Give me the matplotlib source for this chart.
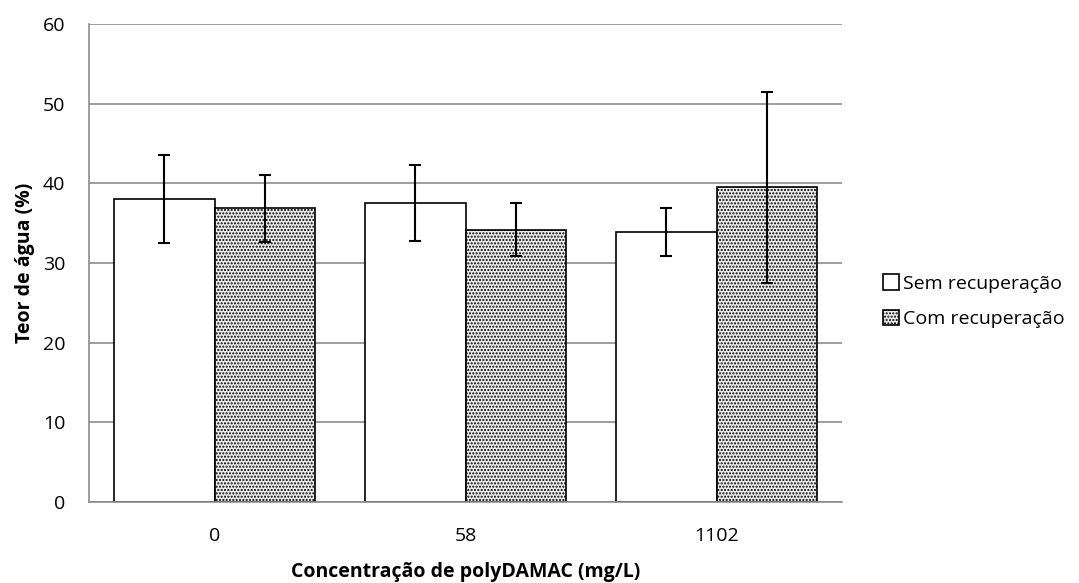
import numpy as np
import matplotlib
matplotlib.use("Agg")
import matplotlib.pyplot as plt

plt.rcParams["font.family"] = ["Open Sans", "DejaVu Sans"]
plt.rcParams["hatch.linewidth"] = 1.0
plt.rcParams["hatch.color"] = "#505050"

# data
categories = ["0", "58", "1102"]
sem_vals = [38.0, 37.5, 33.9]
sem_err = [5.5, 4.75, 3.05]
com_vals = [36.9, 34.2, 39.5]
com_err = [4.2, 3.3, 12.0]

fig = plt.figure(figsize=(10.79, 5.83), dpi=100)
ax = fig.add_axes([0.0825, 0.1389, 0.698, 0.8199])

x = np.arange(len(categories))
w = 0.4
err_kw = dict(ecolor="black", elinewidth=1.5, capsize=4, capthick=1.5)

ax.bar(x - w / 2, sem_vals, w, yerr=sem_err, color="white", edgecolor="black",
       linewidth=1.2, error_kw=err_kw, label="Sem recuperação", zorder=2)
ax.bar(x + w / 2, com_vals, w, yerr=com_err, color="#ececec", edgecolor="black",
       hatch=".....", linewidth=1.2, error_kw=err_kw, label="Com recuperação", zorder=2)

ax.set_xlim(-0.5, 2.5)
ax.set_ylim(0, 60)
ax.set_yticks(range(0, 61, 10))
ax.set_xticks(x)
ax.set_xticklabels(categories)
ax.yaxis.grid(True, color="#8c8c8c", linewidth=1.2)
ax.set_axisbelow(True)
for side in ["top", "right"]:
    ax.spines[side].set_visible(False)
for side in ["left", "bottom"]:
    ax.spines[side].set_color("#8c8c8c")
    ax.spines[side].set_linewidth(1.2)
ax.tick_params(axis="both", length=0, labelsize=14)
ax.tick_params(axis="y", pad=17)
ax.tick_params(axis="x", pad=18)

ax.set_xlabel("Concentração de polyDAMAC (mg/L)", fontsize=14, fontweight="bold", labelpad=12)
ax.set_ylabel("Teor de água (%)", fontsize=14, fontweight="bold", labelpad=6)

ax.legend(loc="center left", bbox_to_anchor=(1.054, 0.42), frameon=False, fontsize=14,
          borderpad=0, borderaxespad=0, handlelength=0.85, handleheight=0.85,
          handletextpad=0.2, labelspacing=0.88)

fig.savefig("out.png", dpi=100)
